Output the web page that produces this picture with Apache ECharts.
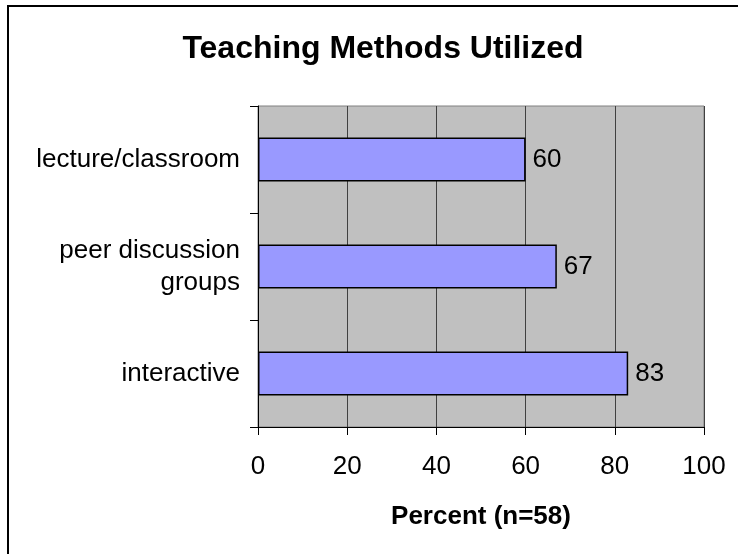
<!DOCTYPE html>
<html>
<head>
<meta charset="utf-8">
<script src="https://cdn.jsdelivr.net/npm/echarts@6/dist/echarts.min.js"></script>
<style>
  html, body { margin: 0; padding: 0; background: #fff; }
  #chart { width: 738px; height: 554px; }
</style>
</head>
<body>
<div id="chart"></div>
<script>
// bottom to top, as the category axis draws them
const categories = ['interactive', 'peer discussion\ngroups', 'lecture/classroom']
const percents = [83, 67, 60]
const xTicks = [0, 20, 40, 60, 80, 100]

const chart = echarts.init(document.getElementById('chart'))
const font = '"Liberation Sans", Arial, sans-serif'

chart.setOption({
  backgroundColor: '#fff',
  animation: false,
  title: {
    text: 'Teaching Methods Utilized',
    left: 378, top: 28, textAlign: 'center',
    textStyle: { fontFamily: font, fontSize: 32, fontWeight: 'bold', color: '#000' }
  },
  graphic: [{
    type: 'rect', shape: { x: 8, y: 6, width: 900, height: 900 },
    style: { fill: 'none', stroke: '#000', lineWidth: 2 }, z: 100
  }],
  grid: {
    left: 258, top: 106, right: 34, bottom: 127,
    show: true, backgroundColor: '#C0C0C0', borderColor: '#808080', borderWidth: 1
  },
  xAxis: {
    type: 'value', min: xTicks[0], max: xTicks[xTicks.length - 1], interval: 20,
    name: 'Percent (n=58)', nameLocation: 'middle', nameGap: 77,
    nameTextStyle: { fontFamily: font, fontSize: 26, fontWeight: 'bold', color: '#000' },
    axisLine: { show: true, lineStyle: { color: '#000', width: 1 } },
    axisTick: { show: true, length: 8, lineStyle: { color: '#000' } },
    axisLabel: { fontFamily: font, fontSize: 26, color: '#000', margin: 27 },
    splitLine: { show: true, lineStyle: { color: '#404040', width: 1 } }
  },
  yAxis: {
    type: 'category', data: categories,
    axisLine: { show: true, lineStyle: { color: '#000', width: 1 } },
    axisTick: { show: true, length: 8, lineStyle: { color: '#000' } },
    axisLabel: { fontFamily: font, fontSize: 26, color: '#000', margin: 18, lineHeight: 32, align: 'right' },
    splitLine: { show: false }
  },
  series: [{
    type: 'bar', data: percents, barWidth: '41%',
    itemStyle: { color: '#9999FF', borderColor: '#000', borderWidth: 1.5 },
    label: { show: true, position: 'right', distance: 7, fontFamily: font, fontSize: 26, color: '#000' }
  }]
})
</script>
</body>
</html>
